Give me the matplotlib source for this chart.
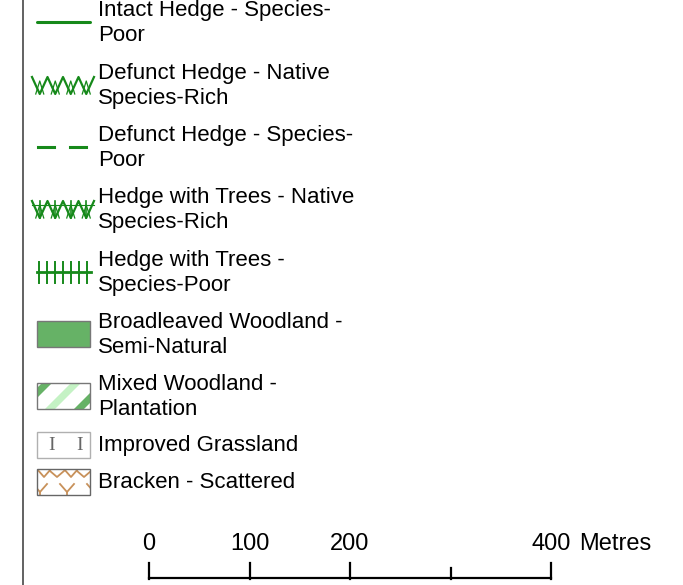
import matplotlib
matplotlib.use("Agg")
import matplotlib.pyplot as plt
from matplotlib.patches import Rectangle, Polygon
import numpy as np

plt.rcParams['font.family'] = ['Liberation Sans', 'DejaVu Sans']

legend_labels = [
    "Intact Hedge - Species-\nPoor",
    "Defunct Hedge - Native\nSpecies-Rich",
    "Defunct Hedge - Species-\nPoor",
    "Hedge with Trees - Native\nSpecies-Rich",
    "Hedge with Trees -\nSpecies-Poor",
    "Broadleaved Woodland -\nSemi-Natural",
    "Mixed Woodland -\nPlantation",
    "Improved Grassland",
    "Bracken - Scattered",
]
symbol_kinds = ["solid", "zigzag", "dashed", "zigzag_trees", "ticks",
                "fill", "stripes", "grass", "bracken"]
row_y = [22, 85, 147, 209, 272, 334, 396, 445, 482]

scale_values = [0, 100, 200, 300, 400]
scale_labels = {0: "0", 100: "100", 200: "200", 400: "400"}
scale_unit = "Metres"

W, H = 683, 585
fig = plt.figure(figsize=(W / 100, H / 100), dpi=100)
ax = fig.add_axes([0, 0, 1, 1])
ax.set_xlim(0, W)
ax.set_ylim(H, 0)
ax.axis('off')

GREEN = "#16891a"
ax.plot([23, 23], [0, H], color="#555555", lw=1.3)

x0, x1 = 37, 90
fs = 16
for lab, kind, y in zip(legend_labels, symbol_kinds, row_y):
    ax.text(98, y + 1, lab, fontsize=fs, va='center', ha='left',
            linespacing=1.2, color='black')
    if kind == "solid":
        ax.plot([x0, x1], [y, y], color=GREEN, lw=2.2, solid_capstyle='round')
    elif kind == "dashed":
        ax.plot([x0 + 1, x0 + 17], [y, y], color=GREEN, lw=2.2)
        ax.plot([x0 + 33, x0 + 49], [y, y], color=GREEN, lw=2.2)
    elif kind in ("zigzag", "zigzag_trees"):
        n = 4
        top, bot = y - 8, y + 9
        xs = np.linspace(32, 94, 2 * n + 1)
        ys = [top if i % 2 == 0 else bot for i in range(2 * n + 1)]
        ax.plot(xs, ys, color=GREEN, lw=1.6)
        for i in range(1, 2 * n, 2):
            xc = xs[i]
            ax.plot([xc - 4, xc, xc + 4], [bot, top + 4, bot], color=GREEN, lw=0.9)
            if kind == "zigzag_trees":
                ax.plot([xc, xc], [top, bot], color=GREEN, lw=1.2)
        if kind == "zigzag_trees":
            ax.plot([32, 94], [y - 4, y - 4], color=GREEN, lw=0.8)
    elif kind == "ticks":
        ax.plot([x0, x1 + 1], [y, y], color=GREEN, lw=2.0)
        for xt in np.linspace(39, 87, 7):
            ax.plot([xt, xt], [y - 10, y + 11], color=GREEN, lw=1.4)
    elif kind == "fill":
        ax.add_patch(Rectangle((x0, y - 13), x1 - x0, 26, facecolor="#66b266",
                               edgecolor="#777777", lw=1.0))
    elif kind == "stripes":
        bg = Rectangle((x0, y - 13), x1 - x0, 26, facecolor="white", edgecolor='none')
        ax.add_patch(bg)
        hgt = 26
        sw = 10
        for xb, col in [(x0 - 21, "#66b266"), (x0 + 8, "#c4f2c4"), (x0 + 37, "#66b266")]:
            poly = Polygon([(xb, y + 13), (xb + sw, y + 13), (xb + sw + hgt, y - 13),
                            (xb + hgt, y - 13)], closed=True, facecolor=col,
                           edgecolor='none')
            ax.add_patch(poly)
            poly.set_clip_path(bg)
        ax.add_patch(Rectangle((x0, y - 13), x1 - x0, 26, fill=False,
                               edgecolor="#777777", lw=1.0, zorder=3))
    elif kind == "grass":
        ax.add_patch(Rectangle((x0, y - 13), x1 - x0, 26, facecolor="white",
                               edgecolor="#b0b0b0", lw=1.0))
        for xi in (52, 80):
            ax.text(xi, y, "I", fontsize=14, family="Liberation Serif",
                    color="#666666", ha='center', va='center')
    elif kind == "bracken":
        bg = Rectangle((x0, y - 13), x1 - x0, 26, facecolor="white",
                       edgecolor='none')
        ax.add_patch(bg)
        BR = "#c8915a"
        segs = []
        for xc in (44, 71, 98):
            segs.append(([xc - 7, xc, xc + 7], [y - 13, y - 5, y - 13]))
        for xc in (30, 57, 84):
            segs.append(([xc - 7, xc, xc + 7], [y - 11, y - 5, y - 11]))
        for xc in (40, 67, 94):
            segs.append(([xc - 7, xc, xc + 7], [y + 2, y + 10, y + 2]))
            segs.append(([xc, xc], [y + 10, y + 13]))
        for sxx, syy in segs:
            ln, = ax.plot(sxx, syy, color=BR, lw=1.3)
            ln.set_clip_path(bg)
        ax.add_patch(Rectangle((x0, y - 13), x1 - x0, 26, fill=False,
                               edgecolor="#666666", lw=1.0, zorder=3))

# scale bar
sx0, sx1 = 149, 551
def sx(v):
    return sx0 + (sx1 - sx0) * v / max(scale_values)
ybar = 578
ax.plot([sx(scale_values[0]), sx(scale_values[-1])], [ybar, ybar], color='black', lw=1.6)
for v in scale_values:
    top = ybar - 15 if v in scale_labels else ybar - 10
    ax.plot([sx(v), sx(v)], [ybar + 0.8, top], color='black', lw=1.6)
for v, t in scale_labels.items():
    ax.text(sx(v), 544, t, fontsize=17, ha='center', va='center')
ax.text(579, 544, scale_unit, fontsize=17, ha='left', va='center')

fig.savefig("out.png", dpi=100)
